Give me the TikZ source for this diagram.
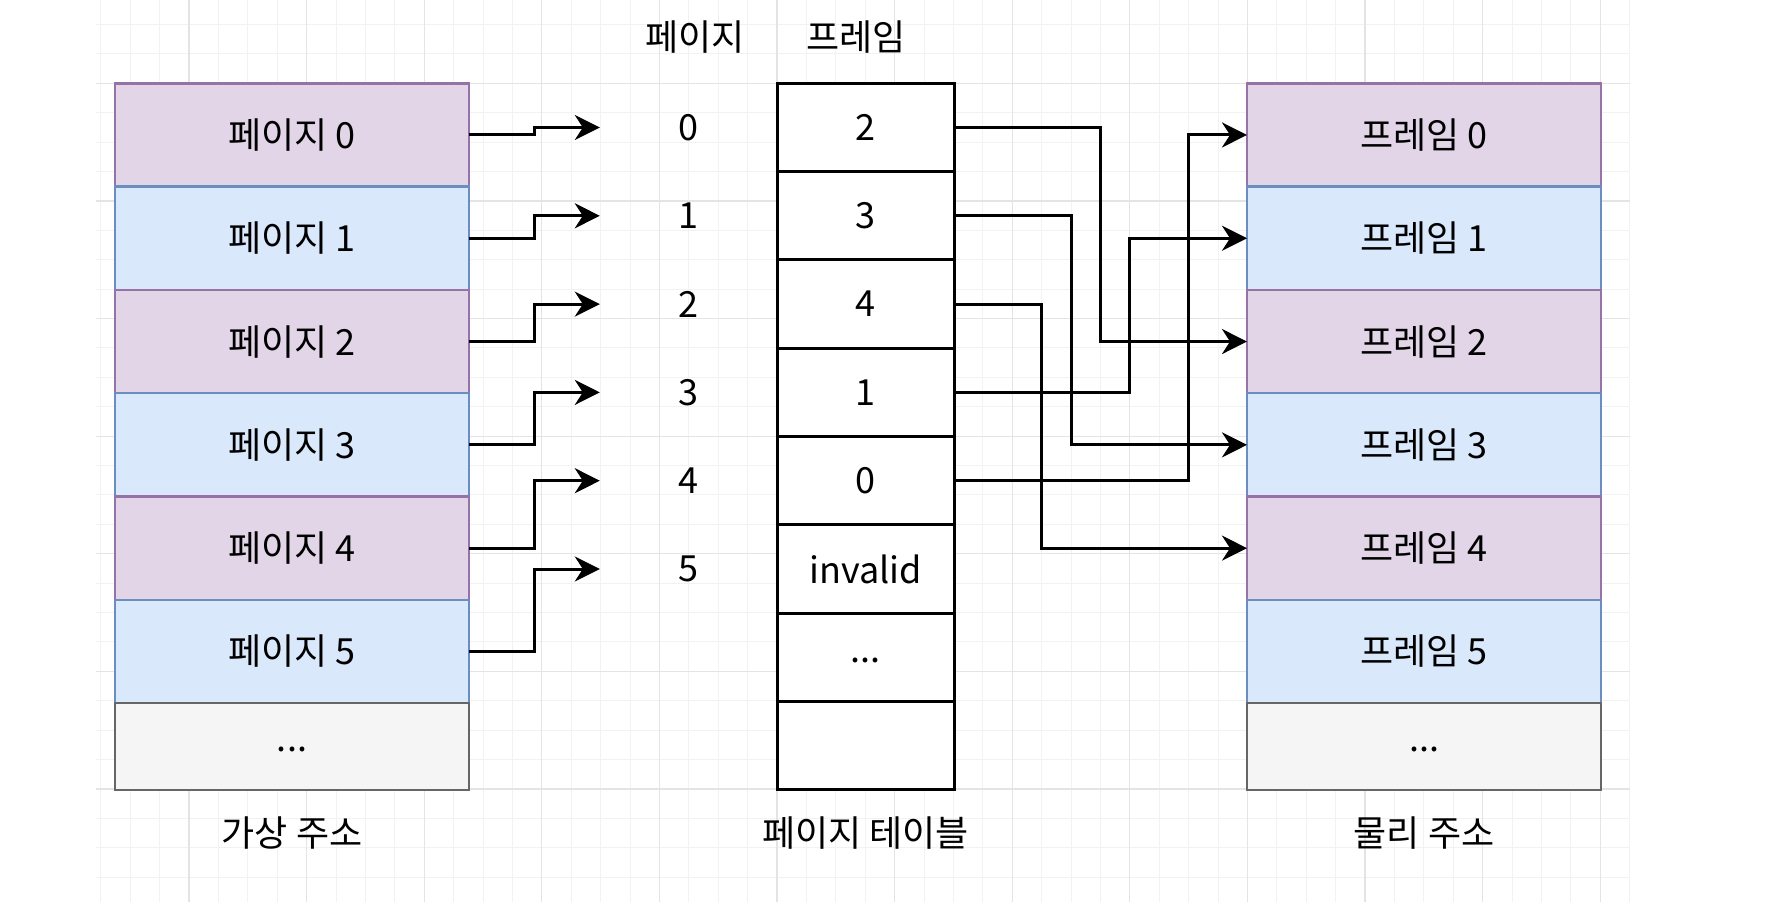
\documentclass[tikz,border=0pt]{standalone}
\usepackage{fontspec}
\setmainfont{Noto Sans CJK KR}
\usetikzlibrary{arrows.meta}
\definecolor{pfill}{HTML}{E1D5E7}
\definecolor{pline}{HTML}{9673A6}
\definecolor{bfill}{HTML}{DAE8FC}
\definecolor{bline}{HTML}{6C8EBF}
\definecolor{gfill}{HTML}{F5F5F5}
\definecolor{gline}{HTML}{666666}
\definecolor{gridmajor}{HTML}{E4E4E4}
\definecolor{gridminor}{HTML}{F2F2F2}
\newcommand{\lowdots}{\raisebox{-5pt}[0pt][0pt]{...}}
\tikzset{
  txt/.style={font=\fontsize{36}{42}\selectfont},
  cell/.style={txt, draw, line width=2.5pt, minimum width=354pt, minimum height=103.3pt,
    anchor=north west, inner sep=0pt, outer sep=0pt},
  purp/.style={cell, fill=pfill, draw=pline},
  blu/.style={cell, fill=bfill, draw=bline},
  gry/.style={cell, fill=gfill, draw=gline, minimum height=86.7pt},
  trow/.style={txt, draw=black, fill=white, line width=3pt, minimum width=177pt,
    minimum height=88.3pt, anchor=north west, inner sep=0pt, outer sep=0pt},
  lbl/.style={txt, inner sep=0pt},
  arr/.style={line width=3pt, -{Stealth[length=25pt,width=25pt,inset=8pt]}},
}
\begin{document}
\begin{tikzpicture}[x=1pt,y=-1pt]
\useasboundingbox (0,0) rectangle (1766,902);
% grid
\foreach \i in {0,...,52} {\draw[gridminor, line width=1pt] ({100.8+29.4*\i},0) -- ({100.8+29.4*\i},902);}
\foreach \i in {0,...,29} {\draw[gridminor, line width=1pt] (96,{24.5+29.4*\i}) -- (1630,{24.5+29.4*\i});}
\foreach \j in {1,...,13} {\draw[gridmajor, line width=1.2pt] ({71.3+117.6*\j},0) -- ({71.3+117.6*\j},902);}
\foreach \j in {0,...,6} {\draw[gridmajor, line width=1.2pt] (96,{83.3+117.6*\j}) -- (1630,{83.3+117.6*\j});}

% virtual address column
\node[purp] (pg0) at (115,83.3) {페이지 0};
\node[blu]  (pg1) at (115,186.6) {페이지 1};
\node[purp] (pg2) at (115,289.9) {페이지 2};
\node[blu]  (pg3) at (115,393.2) {페이지 3};
\node[purp] (pg4) at (115,496.5) {페이지 4};
\node[blu]  (pg5) at (115,599.8) {페이지 5};
\node[gry]  (pg6) at (115,703.1) {\lowdots};

% physical address column
\node[purp] (f0) at (1247,83.3) {프레임 0};
\node[blu]  (f1) at (1247,186.6) {프레임 1};
\node[purp] (f2) at (1247,289.9) {프레임 2};
\node[blu]  (f3) at (1247,393.2) {프레임 3};
\node[purp] (f4) at (1247,496.5) {프레임 4};
\node[blu]  (f5) at (1247,599.8) {프레임 5};
\node[gry]  (f6) at (1247,703.1) {\lowdots};

% page table
\node[trow] (t0) at (777,83.3) {2};
\node[trow] (t1) at (777,171.6) {3};
\node[trow] (t2) at (777,259.9) {4};
\node[trow] (t3) at (777,348.2) {1};
\node[trow] (t4) at (777,436.5) {0};
\node[trow] (t5) at (777,524.8) {invalid};
\node[trow] (t6) at (777,613.1) {\lowdots};
\node[trow] (t7) at (777,701.4) {};

% page index labels
\node[lbl, minimum width=176pt] (pl0) at (688,127.5) {0};
\node[lbl, minimum width=176pt] (pl1) at (688,215.8) {1};
\node[lbl, minimum width=176pt] (pl2) at (688,304.1) {2};
\node[lbl, minimum width=176pt] (pl3) at (688,392.4) {3};
\node[lbl, minimum width=176pt] (pl4) at (688,480.7) {4};
\node[lbl, minimum width=176pt] (pl5) at (688,569.0) {5};

% headers and captions
\node[lbl] (hpage) at (695,37) {페이지};
\node[lbl] (hframe) at (856,37) {프레임};
\node[lbl] (cv) at (292,833) {가상 주소};
\node[lbl] (ct) at (865.5,833) {페이지 테이블};
\node[lbl] (cp) at (1424,833) {물리 주소};

% page -> index arrows
\draw[arr] (pg0.east) -- ++(65.5,0) |- (pl0.west);
\draw[arr] (pg1.east) -- ++(65.5,0) |- (pl1.west);
\draw[arr] (pg2.east) -- ++(65.5,0) |- (pl2.west);
\draw[arr] (pg3.east) -- ++(65.5,0) |- (pl3.west);
\draw[arr] (pg4.east) -- ++(65.5,0) |- (pl4.west);
\draw[arr] (pg5.east) -- ++(65.5,0) |- (pl5.west);

% table -> frame arrows
\draw[arr] (t0.east) -- ++(146,0) |- (f2.west);
\draw[arr] (t1.east) -- ++(117,0) |- (f3.west);
\draw[arr] (t2.east) -- ++(87,0) |- (f4.west);
\draw[arr] (t3.east) -- ++(175,0) |- (f1.west);
\draw[arr] (t4.east) -- ++(234.5,0) |- (f0.west);
\end{tikzpicture}
\end{document}
